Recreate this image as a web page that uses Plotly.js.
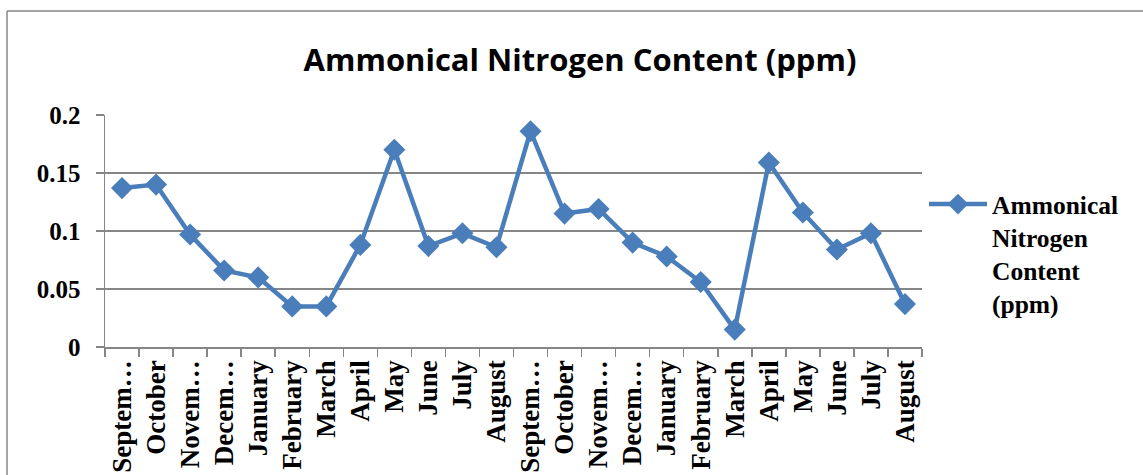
<!DOCTYPE html>
<html>
<head>
<meta charset="utf-8">
<script src="https://cdn.plot.ly/plotly-3.0.1.min.js"></script>
<style>
html,body{margin:0;padding:0;background:#fff;}
#chart{width:1143px;height:475px;}
</style>
</head>
<body>
<div id="chart"></div>
<script>
const months = ["Septem…","October","Novem…","Decem…","January","February","March","April","May","June","July","August",
                "Septem…","October","Novem…","Decem…","January","February","March","April","May","June","July","August"];
const ammonicalN = [0.137,0.140,0.097,0.066,0.060,0.035,0.035,0.088,0.170,0.087,0.098,0.086,
                    0.186,0.115,0.119,0.090,0.078,0.056,0.015,0.159,0.116,0.084,0.098,0.037];
const seriesName = "<b>Ammonical</b><br><b>Nitrogen</b><br><b>Content</b><br><b>(ppm)</b>";
const chartTitle = "Ammonical Nitrogen Content (ppm)";
const yTicks = [0,0.05,0.1,0.15,0.2];

const idx = months.map((m,i)=>i);
const gray = "#868686";
const serif = "Liberation Serif";

const trace = {
  x: idx, y: ammonicalN, type:"scatter", mode:"lines+markers", name: seriesName,
  line:{color:"#4A7EBB", width:4.5},
  marker:{symbol:"diamond", size:17, color:"#4A7EBB"}
};

const L=105, R=922, T=115, B=347, W=1143, H=475;
const px = v => (v-L)/(R-L);
const py = v => (B-v)/(B-T);

const layout = {
  width:W, height:H,
  margin:{l:L, r:W-R, t:T, b:H-B, pad:0},
  paper_bgcolor:"#fff", plot_bgcolor:"#fff",
  font:{family:serif, color:"#000"},
  showlegend:true,
  title:{text:chartTitle, font:{family:"Open Sans", size:31, weight:"bold", color:"#000"},
         x:580/W, xref:"container", xanchor:"center", y:1-60/H, yref:"container", yanchor:"middle"},
  xaxis:{
    range:[-0.5, months.length-0.5], tickmode:"array", tickvals:idx, ticktext:months,
    tickangle:-90, ticks:"outside", ticklen:1, tickcolor:"rgba(0,0,0,0)",
    tickfont:{family:serif, size:27, weight:"bold", color:"#000"},
    showline:true, linecolor:gray, linewidth:1.5, showgrid:false, zeroline:false,
    minor:{tickmode:"linear", tick0:-0.5, dtick:1, ticks:"outside", ticklen:8, tickcolor:gray, tickwidth:1.5, showgrid:false},
    fixedrange:true
  },
  yaxis:{
    range:[0,0.2], tickmode:"array", tickvals:yTicks, ticktext:yTicks.map(String),
    ticks:"outside", ticklen:8, tickcolor:gray, tickwidth:1.5, ticklabelstandoff:10,
    tickfont:{family:serif, size:25, weight:"bold", color:"#000"},
    showline:true, linecolor:gray, linewidth:1.5,
    showgrid:true, gridcolor:gray, gridwidth:1.5, zeroline:false, fixedrange:true
  },
  legend:{x:px(924), xanchor:"left", y:py(181), yanchor:"top", valign:"top",
          font:{family:serif, size:25.5, color:"#000"}, itemwidth:58,
          bgcolor:"rgba(0,0,0,0)", tracegroupgap:0},
  shapes:[
    {type:"line", xref:"paper", yref:"paper", x0:px(7), x1:px(7), y0:py(480), y1:py(11), line:{color:gray, width:1.5}},
    {type:"line", xref:"paper", yref:"paper", x0:px(7), x1:px(1150), y0:py(11), y1:py(11), line:{color:gray, width:1.5}}
  ]
};

Plotly.newPlot("chart", [trace], layout, {displayModeBar:false, staticPlot:true});
</script>
</body>
</html>
